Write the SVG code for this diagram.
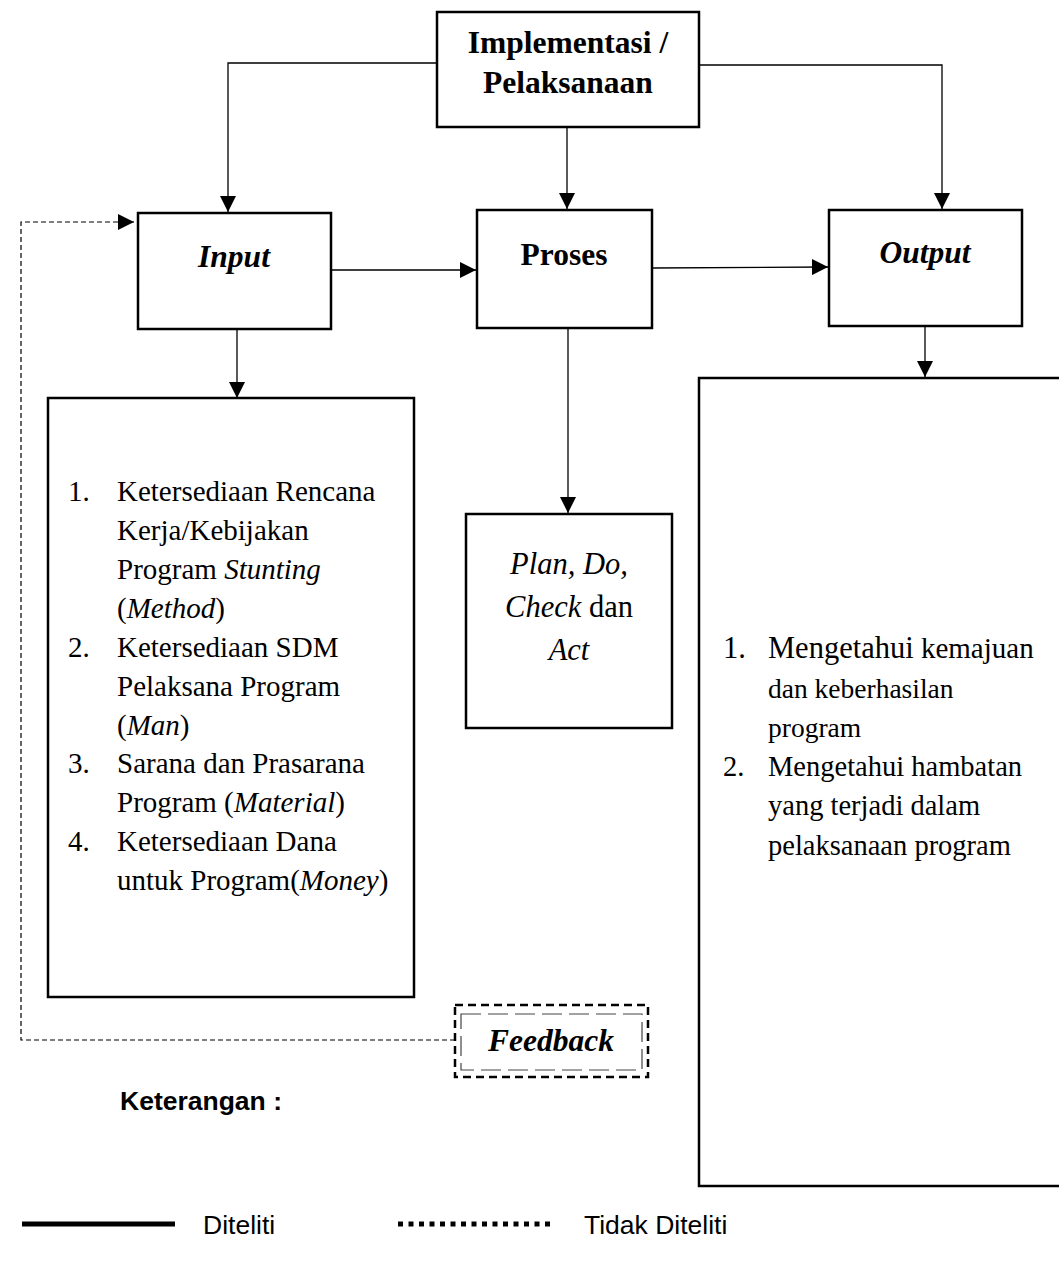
<svg xmlns="http://www.w3.org/2000/svg" width="1059" height="1265" viewBox="0 0 1059 1265">
<style>
.box{fill:#fff;stroke:#000;stroke-width:2.5}
.ln{fill:none;stroke:#000;stroke-width:1.3}
.dash{fill:none;stroke:#000;stroke-width:1.2;stroke-dasharray:5 3}
.h{font-family:"Liberation Serif","Times New Roman",serif;font-size:31.5px;font-weight:bold;fill:#000}
.t{font-family:"Liberation Serif","Times New Roman",serif;font-size:29px;fill:#000}
.s{font-family:"Liberation Sans",Arial,sans-serif;fill:#000}
.i{font-style:italic}
</style>
<defs>
<marker id="ah" markerUnits="userSpaceOnUse" markerWidth="16" markerHeight="16" viewBox="0 0 16 16" refX="16" refY="8" orient="auto">
<path d="M0,0 L16,8 L0,16 Z" fill="#000"/>
</marker>
</defs>

<g id="connectors">
<polyline class="ln" points="437,63 228,63 228,212" marker-end="url(#ah)"/>
<polyline class="ln" points="699,65 942,65 942,209" marker-end="url(#ah)"/>
<line class="ln" x1="567" y1="127" x2="567" y2="209" marker-end="url(#ah)"/>
<line class="ln" x1="331" y1="270" x2="476" y2="270" marker-end="url(#ah)"/>
<line class="ln" x1="652" y1="268" x2="828" y2="267" marker-end="url(#ah)"/>
<line class="ln" x1="237" y1="329" x2="237" y2="398" marker-end="url(#ah)"/>
<line class="ln" x1="568" y1="328" x2="568" y2="513" marker-end="url(#ah)"/>
<line class="ln" x1="925" y1="326" x2="925" y2="377" marker-end="url(#ah)"/>
<polyline class="dash" points="455,1040 21,1040 21,222 134,222" marker-end="url(#ah)"/>
</g>

<g id="implementasi">
<rect class="box" x="437" y="12" width="262" height="115"/>
<text class="h" x="568" y="53" text-anchor="middle">Implementasi /</text>
<text class="h" x="568" y="93" text-anchor="middle">Pelaksanaan</text>
</g>

<g id="input">
<rect class="box" x="138" y="213" width="193" height="116"/>
<text class="h i" x="234" y="267" text-anchor="middle">Input</text>
</g>

<g id="proses">
<rect class="box" x="477" y="210" width="175" height="118"/>
<text class="h" x="564" y="265" text-anchor="middle">Proses</text>
</g>

<g id="output">
<rect class="box" x="829" y="210" width="193" height="116"/>
<text class="h i" x="925" y="263" text-anchor="middle">Output</text>
</g>

<g id="input-list">
<rect class="box" x="48" y="398" width="366" height="599"/>
<text class="t" x="68" y="501">1.</text>
<text class="t" x="117" y="501">Ketersediaan Rencana</text>
<text class="t" x="117" y="540">Kerja/Kebijakan</text>
<text class="t" x="117" y="579">Program <tspan class="i">Stunting</tspan></text>
<text class="t" x="117" y="618">(<tspan class="i">Method</tspan>)</text>
<text class="t" x="68" y="657">2.</text>
<text class="t" x="117" y="657">Ketersediaan SDM</text>
<text class="t" x="117" y="696">Pelaksana Program</text>
<text class="t" x="117" y="735">(<tspan class="i">Man</tspan>)</text>
<text class="t" x="68" y="773">3.</text>
<text class="t" x="117" y="773">Sarana dan Prasarana</text>
<text class="t" x="117" y="812">Program (<tspan class="i">Material</tspan>)</text>
<text class="t" x="68" y="851">4.</text>
<text class="t" x="117" y="851">Ketersediaan Dana</text>
<text class="t" x="117" y="890">untuk Program(<tspan class="i">Money</tspan>)</text>
</g>

<g id="pdca">
<rect class="box" x="466" y="514" width="206" height="214"/>
<text class="t" x="569" y="574" text-anchor="middle" style="font-size:30.5px"><tspan class="i">Plan, Do,</tspan></text>
<text class="t" x="569" y="617" text-anchor="middle" style="font-size:30.5px"><tspan class="i">Check</tspan> dan</text>
<text class="t" x="569" y="660" text-anchor="middle" style="font-size:30.5px"><tspan class="i">Act</tspan></text>
</g>

<g id="output-list">
<rect class="box" x="699" y="378" width="370" height="808"/>
<text class="t" x="723" y="658" style="font-size:30.5px">1.</text>
<text class="t" x="768" y="658"><tspan style="font-size:30.5px">Mengetahui</tspan> kemajuan</text>
<text class="t" x="768" y="698" style="font-size:27.5px">dan keberhasilan</text>
<text class="t" x="768" y="737" style="font-size:27.5px">program</text>
<text class="t" x="723" y="776" style="font-size:28.5px">2.</text>
<text class="t" x="768" y="776" style="font-size:28.5px">Mengetahui hambatan</text>
<text class="t" x="768" y="815" style="font-size:28.5px">yang terjadi dalam</text>
<text class="t" x="768" y="855" style="font-size:28.5px">pelaksanaan program</text>
</g>

<g id="feedback">
<rect x="455" y="1005" width="193" height="72" fill="#fff" stroke="#000" stroke-width="2.5" stroke-dasharray="8 5"/>
<rect x="461" y="1014" width="181" height="56" fill="none" stroke="#444" stroke-width="1.2" stroke-dasharray="20 7"/>
<text class="h i" x="551" y="1051" text-anchor="middle">Feedback</text>
</g>

<g id="legend">
<text class="s" x="120" y="1110" style="font-size:26.5px;font-weight:bold">Keterangan :</text>
<line x1="22" y1="1224" x2="175" y2="1224" stroke="#000" stroke-width="5"/>
<text class="s" x="203" y="1234" style="font-size:26.5px">Diteliti</text>
<line x1="398" y1="1224" x2="551" y2="1224" stroke="#000" stroke-width="5" stroke-dasharray="5 5.5"/>
<text class="s" x="584" y="1234" style="font-size:26.5px">Tidak Diteliti</text>
</g>
</svg>
